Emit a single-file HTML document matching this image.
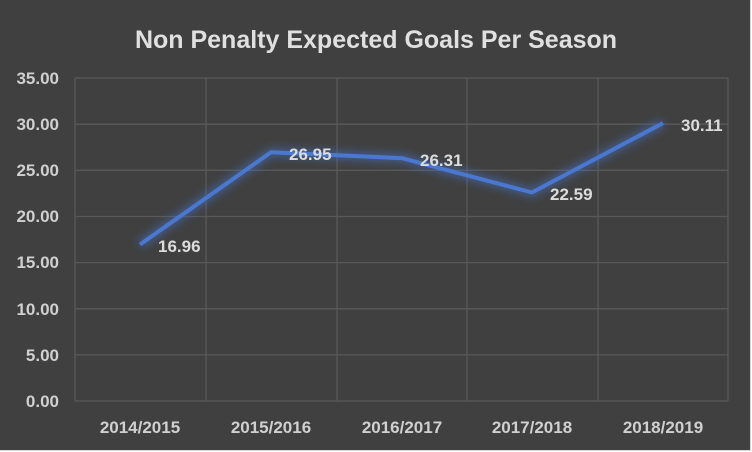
<!DOCTYPE html>
<html><head><style>
html,body{margin:0;padding:0;background:#fff}
svg{display:block}
text{font-family:"Liberation Sans",sans-serif}
</style></head><body>
<svg width="752" height="452" viewBox="0 0 752 452" xmlns="http://www.w3.org/2000/svg">
<defs><filter id="g" x="-20%" y="-20%" width="140%" height="140%"><feGaussianBlur stdDeviation="4"/></filter></defs>
<rect x="0" y="0" width="751" height="451" fill="#d9d9d9"/>
<rect x="0" y="0" width="750" height="450" fill="#404040"/>
<text x="376" y="48" text-anchor="middle" font-size="25" font-weight="bold" fill="#e0e0e0">Non Penalty Expected Goals Per Season</text>
<g stroke="#595959" stroke-width="1.3">
<line x1="75" y1="78" x2="728" y2="78"/>
<line x1="75" y1="124.2" x2="728" y2="124.2"/>
<line x1="75" y1="170.3" x2="728" y2="170.3"/>
<line x1="75" y1="216.5" x2="728" y2="216.5"/>
<line x1="75" y1="262.6" x2="728" y2="262.6"/>
<line x1="75" y1="308.8" x2="728" y2="308.8"/>
<line x1="75" y1="354.9" x2="728" y2="354.9"/>
<line x1="75" y1="401" x2="728" y2="401"/>
<line x1="75" y1="78" x2="75" y2="401"/>
<line x1="206" y1="78" x2="206" y2="401"/>
<line x1="337" y1="78" x2="337" y2="401"/>
<line x1="467" y1="78" x2="467" y2="401"/>
<line x1="598" y1="78" x2="598" y2="401"/>
<line x1="728" y1="78" x2="728" y2="401"/>
</g>
<g font-size="17" font-weight="bold" fill="#d0d0d0" text-anchor="end">
<text x="59" y="84">35.00</text>
<text x="59" y="130">30.00</text>
<text x="59" y="176">25.00</text>
<text x="59" y="222">20.00</text>
<text x="59" y="268">15.00</text>
<text x="59" y="315">10.00</text>
<text x="59" y="361">5.00</text>
<text x="59" y="407">0.00</text>
</g>
<g font-size="17" font-weight="bold" fill="#d0d0d0" text-anchor="middle">
<text x="140" y="433">2014/2015</text>
<text x="271" y="433">2015/2016</text>
<text x="402" y="433">2016/2017</text>
<text x="532" y="433">2017/2018</text>
<text x="663" y="433">2018/2019</text>
</g>
<polyline points="140,244.5 271,152.3 402,158.2 532,192.5 663,123.1" fill="none" stroke="#4472c4" stroke-width="10" opacity="0.5" filter="url(#g)"/>
<polyline points="140,244.5 271,152.3 402,158.2 532,192.5 663,123.1" fill="none" stroke="#4a78d0" stroke-width="4" stroke-linejoin="round"/>
<g font-size="17" font-weight="bold" fill="#dcdcdc">
<text x="158" y="252">16.96</text>
<text x="289" y="160">26.95</text>
<text x="420" y="166">26.31</text>
<text x="550" y="200">22.59</text>
<text x="681" y="131">30.11</text>
</g>
</svg>
</body></html>
